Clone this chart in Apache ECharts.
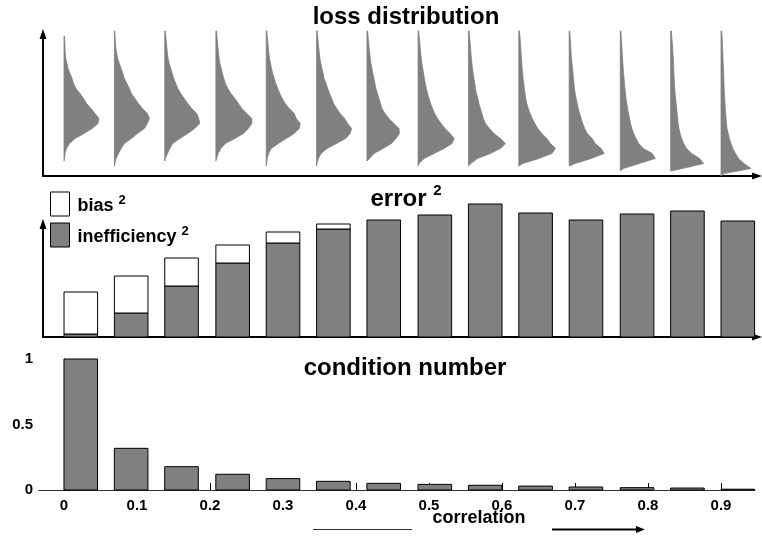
<!DOCTYPE html>
<html><head><meta charset="utf-8">
<script src="https://cdn.jsdelivr.net/npm/echarts@6/dist/echarts.min.js"></script>
<style>html,body{margin:0;padding:0;background:#fff}#c{width:762px;height:537px}</style>
</head><body><div id="c"></div>
<script>
// ---------- data ----------
const correlation = [0, 0.069, 0.138, 0.208, 0.277, 0.346, 0.415, 0.485, 0.554, 0.623, 0.692, 0.762, 0.831, 0.9];
const xTickValues = [0, 0.1, 0.2, 0.3, 0.4, 0.5, 0.6, 0.7, 0.8, 0.9];
const xTickLabels = ['0', '0.1', '0.2', '0.3', '0.4', '0.5', '0.6', '0.7', '0.8', '0.9'];
const yTickLabels = ['0', '0.5', '1'];
const inefficiency2 = [0.03, 0.24, 0.51, 0.74, 0.94, 1.08, 1.17, 1.22, 1.33, 1.24, 1.17, 1.23, 1.26, 1.16];
const bias2 = [0.42, 0.37, 0.28, 0.18, 0.11, 0.05, 0, 0, 0, 0, 0, 0, 0, 0];
const conditionNumber = [1, 0.318, 0.178, 0.12, 0.087, 0.066, 0.051, 0.043, 0.036, 0.03, 0.023, 0.018, 0.015, 0.006];
// loss histograms: density per loss bin, bins listed from low loss (bottom) to high loss (top)
const hist01 = [0,0,0,0.5,1,2.5,5.5,11,20,28,34,35,31,27,22.5,19.5,16,12,9.5,8,6,4,3,1.7,1.3,1,0.8,0.6,0];
const hist02 = [0,0,0.5,1.7,4,6.7,10,17,23,30,33,35,33,28,24,20.5,17,15,12.5,10,8.5,6.7,5,3.3,2.3,1.5,1,0.8,0.5];
const hist03 = [0,0,0,0.5,2.7,5,8,15,23,30,35,34,32,27,23,19.5,16,13,11,9,7.5,6,4.5,3.3,2.7,2.2,1.7,1.2,0.8];
const hist04 = [0,0,0,0.7,2.3,5,9.5,19,27.5,32.5,36,36,31,26,22.5,19,15,12,9.5,8,6.5,5.5,4,3.3,2.7,2.2,1.7,1.3,0.8];
const hist05 = [0,0,0.5,1,2.3,5,12,20,28,33,34,30,28,23,19,16,13.5,11.5,9.5,8,6.5,5.3,4.3,3.3,2.7,2.2,1.7,1.3,0.8];
const hist06 = [0,0,0.3,1.7,4.5,10.5,20,29,33.5,35,31,28,23.5,20,17,15,13,11,9.5,7.5,6.5,5.3,4.3,3.3,2.7,2.2,1.7,1.3,0.8];
const hist07 = [0,0,0,2.5,7,16,24.5,29,32.5,32,27,22,18,15,13.5,12,10.5,9,8,7,5.8,5,4,3.3,2.7,2.2,1.8,1.3,0.8];
const hist08 = [0,0,1,6,16,26,34,36,32,27,23,19.5,16.5,14.5,12.5,11,9.5,8.3,7.3,6.3,5.5,4.7,3.8,3.3,2.7,2.2,1.7,1.3,0.8];
const hist09 = [0,0,2.3,9,22,32,37,32,25.5,21,17,15,13.5,12,10.5,9.5,8,7,6.3,5.5,4.8,4,3.5,3,2.5,2.2,1.7,1.3,0.8];
const hist10 = [0,0,4,20,33,36.7,31.7,28,23,19,16,13.5,11.3,9.5,8,7,6.2,5.5,5,4.3,3.9,3.4,3,2.7,2.3,2,1.7,1.3,0.8];
const hist11 = [0,0,6,22,35,32,26,23,18,15.5,13.5,12,10.5,9,8,7,6,5.3,4.8,4.3,3.8,3.3,2.8,2.3,2,1.7,1.4,1.1,0.7];
const hist12 = [0,3,19,35,32,23,18.5,15.7,13.5,11.5,10.3,9.3,8.3,7.3,6.5,5.8,5.2,4.7,4.2,3.8,3.3,2.9,2.6,2.3,2,1.7,1.4,1.1,0.7];
const hist13 = [0,12,33,29,21,16,13,11,9.5,8.3,7.5,7,6.5,6,5.5,5,4.4,4.1,3.8,3.5,3.3,3.1,2.9,2.7,2.3,2,1.7,1.3,0.8];
const hist14 = [3,30,23,17.5,14.5,11.7,10,8.3,7.3,6,5.5,5.1,4.7,4.3,4,3.7,3.4,3.2,3,2.8,2.6,2.4,2.2,2,1.8,1.6,1.4,1.2,0.8];
const histograms = [hist01,hist02,hist03,hist04,hist05,hist06,hist07,hist08,hist09,hist10,hist11,hist12,hist13,hist14];

// ---------- chart ----------
const FONT = '"Liberation Sans", Arial, Helvetica, sans-serif';
const GRAY = '#808080';
const BAR_W = 0.046;           // bar width in correlation units
const DENSITY_SCALE = 1 / 730; // density unit -> correlation units

function rectBetween(api, xa, ya, xb, yb, style) {
  const p0 = api.coord([xa, ya]);
  const p1 = api.coord([xb, yb]);
  const x = Math.min(p0[0], p1[0]), y = Math.min(p0[1], p1[1]);
  return { type: 'rect', shape: { x: x, y: y, width: Math.abs(p1[0] - p0[0]), height: Math.abs(p1[1] - p0[1]) }, style: style };
}

const arrowAxisLine = { show: true, onZero: false, symbol: ['none', 'triangle'], symbolSize: [7, 10], lineStyle: { color: '#000', width: 2 } };
const hiddenParts = { axisTick: { show: false }, axisLabel: { show: false }, splitLine: { show: false } };

const option = {
  animation: false,
  backgroundColor: '#fff',
  title: [
    { text: 'loss distribution', left: 406, top: 5, textAlign: 'center', padding: 0,
      textStyle: { fontSize: 24, fontWeight: 'bold', fontFamily: FONT, color: '#000' } },
    { text: 'error {s|2}', left: 406, top: 183, textAlign: 'center', padding: 0,
      textStyle: { fontSize: 24, fontWeight: 'bold', fontFamily: FONT, color: '#000', lineHeight: 32,
        rich: { s: { fontSize: 15, fontWeight: 'bold', fontFamily: FONT, color: '#000', verticalAlign: 'top' } } } },
    { text: 'condition number', left: 405, top: 356, textAlign: 'center', padding: 0,
      textStyle: { fontSize: 24, fontWeight: 'bold', fontFamily: FONT, color: '#000' } },
    { text: 'correlation', left: 479, top: 509, textAlign: 'center', padding: 0,
      textStyle: { fontSize: 18, fontWeight: 'bold', fontFamily: FONT, color: '#000' } }
  ],
  legend: {
    left: 50, top: 188.5, orient: 'vertical', itemWidth: 19, itemHeight: 24, itemGap: 0, padding: 0,
    selectedMode: false,
    data: [
      { name: 'bias', icon: 'rect', itemStyle: { color: '#fff', borderColor: '#000', borderWidth: 1 } },
      { name: 'inefficiency', icon: 'rect', itemStyle: { color: GRAY, borderColor: '#000', borderWidth: 1 } }
    ],
    formatter: name => name + ' {s|2}',
    textStyle: { fontSize: 18, fontWeight: 'bold', fontFamily: FONT, color: '#000', lineHeight: 26, padding: [5, 0, 0, 3],
      rich: { s: { fontSize: 13, fontWeight: 'bold', fontFamily: FONT, color: '#000', verticalAlign: 'top' } } }
  },
  grid: [
    { left: 43, right: 5, top: 34, height: 142 },
    { left: 43, right: 5, top: 224, height: 113 },
    { left: 39, right: 7, top: 359, height: 131 }
  ],
  xAxis: [
    Object.assign({ gridIndex: 0, type: 'value', min: -0.0288, max: 0.9493, axisLine: arrowAxisLine }, hiddenParts),
    Object.assign({ gridIndex: 1, type: 'value', min: -0.0288, max: 0.9493, axisLine: arrowAxisLine }, hiddenParts),
    { gridIndex: 2, type: 'value', min: -0.0342, max: 0.9466,
      axisLine: { show: true, onZero: false, lineStyle: { color: '#333', width: 1 } },
      axisTick: { show: true, inside: true, length: 7, customValues: xTickValues, lineStyle: { color: '#000', width: 1 } },
      axisLabel: { customValues: xTickValues, formatter: v => xTickLabels[xTickValues.findIndex(t => Math.abs(t - v) < 1e-6)],
        color: '#000', fontSize: 15, fontWeight: 'bold', fontFamily: FONT, margin: 8 },
      splitLine: { show: false } }
  ],
  yAxis: [
    Object.assign({ gridIndex: 0, type: 'value', min: 0, max: 28.4, axisLine: arrowAxisLine }, hiddenParts),
    Object.assign({ gridIndex: 1, type: 'value', min: 0, max: 1.13, axisLine: arrowAxisLine }, hiddenParts),
    { gridIndex: 2, type: 'value', min: 0, max: 1, interval: 0.5,
      axisLine: { show: true, lineStyle: { color: '#333', width: 1 } },
      axisTick: { show: true, inside: true, length: 6, lineStyle: { color: '#000' } },
      axisLabel: { formatter: v => yTickLabels[Math.round(v * 2)], color: '#000', fontSize: 15, fontWeight: 'bold', fontFamily: FONT, margin: 6 },
      splitLine: { show: false } }
  ],
  series: [
    { type: 'custom', name: 'loss', xAxisIndex: 0, yAxisIndex: 0, clip: false,
      data: correlation.map((c, i) => [c, i]),
      renderItem: (params, api) => {
        const x0 = api.value(0), h = histograms[api.value(1)];
        let first = h.findIndex(d => d > 0);
        let last = h.length - 1; while (last > 0 && !(h[last] > 0)) last--;
        const pts = [api.coord([x0, first])];
        for (let k = first; k <= last; k++) pts.push(api.coord([x0 + h[k] * DENSITY_SCALE, k + 0.5]));
        pts.push(api.coord([x0 + h[last] * DENSITY_SCALE, last + 1]));
        pts.push(api.coord([x0, last + 1]));
        return { type: 'polygon', shape: { points: pts }, style: { fill: GRAY, stroke: GRAY, lineWidth: 0.8 } };
      } },
    { type: 'custom', name: 'inefficiency', xAxisIndex: 1, yAxisIndex: 1, clip: false,
      itemStyle: { color: GRAY, borderColor: '#000', borderWidth: 1 },
      data: correlation.map((c, i) => [c, inefficiency2[i]]),
      renderItem: (params, api) => {
        const x = api.value(0), v = api.value(1);
        return rectBetween(api, x, 0, x + BAR_W, v, { fill: GRAY, stroke: '#000', lineWidth: 1 });
      } },
    { type: 'custom', name: 'bias', xAxisIndex: 1, yAxisIndex: 1, clip: false,
      itemStyle: { color: '#fff', borderColor: '#000', borderWidth: 1 },
      data: correlation.map((c, i) => [c, inefficiency2[i], bias2[i]]),
      renderItem: (params, api) => {
        const x = api.value(0), base = api.value(1), v = api.value(2);
        if (!v) return null;
        return rectBetween(api, x, base, x + BAR_W, base + v, { fill: '#fff', stroke: '#000', lineWidth: 1 });
      } },
    { type: 'custom', name: 'condition', xAxisIndex: 2, yAxisIndex: 2, clip: false,
      data: correlation.map((c, i) => [c, conditionNumber[i]]),
      renderItem: (params, api) => {
        const x = api.value(0), v = api.value(1);
        return rectBetween(api, x, 0, x + BAR_W, v, { fill: GRAY, stroke: '#000', lineWidth: 1 });
      } }
  ],
  graphic: [
    { type: 'line', shape: { x1: 313, y1: 529.5, x2: 412, y2: 529.5 }, style: { stroke: '#333', lineWidth: 1 } },
    { type: 'line', shape: { x1: 552, y1: 529.5, x2: 638, y2: 529.5 }, style: { stroke: '#000', lineWidth: 2 } },
    { type: 'polygon', shape: { points: [[645, 529.5], [636, 526], [636, 533]] }, style: { fill: '#000' } }
  ]
};
const chart = echarts.init(document.getElementById('c'));
chart.setOption(option);
</script></body></html>
